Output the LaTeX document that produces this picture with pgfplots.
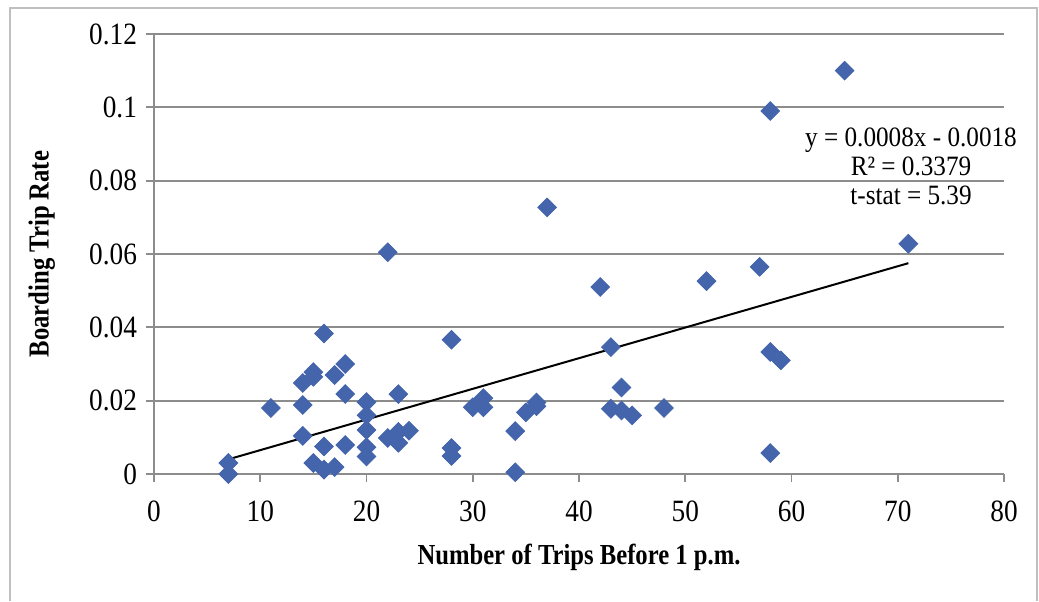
\documentclass[border=0pt]{standalone}
\usepackage{pgfplots}
\pgfplotsset{compat=1.18}
\usepackage{fontspec}
\setmainfont{Liberation Serif}
\newfontfamily\tickfont[FakeStretch=0.88]{Liberation Serif}
\newfontfamily\labfont[FakeStretch=0.85]{Liberation Serif}
\newfontfamily\eqfont[FakeStretch=0.9]{Liberation Serif}
\definecolor{mk}{RGB}{68,100,172}
\definecolor{gridc}{RGB}{140,140,140}
\begin{document}
\begin{tikzpicture}
\useasboundingbox (-77pt,-63.5pt) rectangle (442.5pt,237pt);
\begin{axis}[
  at={(0,0)}, anchor=south west,
  scale only axis, width=425pt, height=220pt,
  xmin=0, xmax=80, ymin=0, ymax=0.12,
  clip=false,
  axis x line*=bottom, axis y line*=left,
  axis line style={gridc, line width=0.9pt, -},
  tick align=outside, major tick length=4pt,
  tick style={gridc, line width=0.9pt},
  xtick={0,10,...,80},
  xticklabels={0,10,20,30,40,50,60,70,80},
  ytick={0,0.02,0.04,0.06,0.08,0.1,0.12},
  yticklabels={0,0.02,0.04,0.06,0.08,0.1,0.12},
  /pgf/number format/assume math mode=true,
  ymajorgrids, major grid style={gridc, line width=0.9pt},
  tick label style={font=\tickfont\fontsize{15.5}{18}\selectfont},
  xticklabel style={yshift=-6pt},
  yticklabel style={xshift=-1pt},
  xlabel={Number of Trips Before 1 p.m.},
  ylabel={Boarding Trip Rate},
  label style={font=\labfont\bfseries\fontsize{14.5}{17}\selectfont},
  xlabel style={at={(axis description cs:0.5,-0.189)}, anchor=center},
  ylabel style={at={(axis description cs:-0.132,0.5)}, anchor=center},
]
\addplot[only marks, mark=square*, mark size=3.3pt, mark options={rotate=45, fill=mk, draw=mk}] coordinates {
(7,0.003) (7,0.0) (11,0.018) (14,0.0188) (14,0.0248) (15,0.0265) (15,0.0278)
(16,0.0383) (17,0.027) (18,0.030) (18,0.0218) (20,0.0196) (20,0.016) (20,0.012)
(23,0.0218) (14,0.0104) (16,0.0075) (18,0.0079) (20,0.0073) (20,0.0048)
(22,0.0098) (23,0.0115) (23,0.0085) (24,0.0118) (28,0.0071) (28,0.0049)
(15,0.003) (16,0.0012) (17,0.0019) (22,0.0605) (28,0.0366) (37,0.0727)
(42,0.051) (43,0.0346) (44,0.0236) (30,0.0182) (31,0.0207) (31,0.0182)
(35,0.0168) (36,0.0185) (36,0.0195) (43,0.0178) (44,0.0173) (45,0.016)
(34,0.0117) (34,0.0005) (48,0.018) (52,0.0526) (57,0.0565) (58,0.099)
(65,0.110) (71,0.0628) (58,0.0333) (59,0.031) (58,0.0057)
};
\addplot[black, line width=1pt] coordinates {(7,0.0040) (71,0.0575)};
\node[align=center, inner sep=0pt, font=\eqfont\fontsize{14}{14.5}\selectfont] at (axis cs:71.25,0.084)
  {y = 0.0008x - 0.0018\\R² = 0.3379\\t-stat = 5.39};
\end{axis}
\draw[gray!50, line width=1pt] (-72pt,-63.5pt) -- (-72pt,233pt) -- (441.5pt,233pt) -- (441.5pt,-63.5pt);
\end{tikzpicture}
\end{document}
